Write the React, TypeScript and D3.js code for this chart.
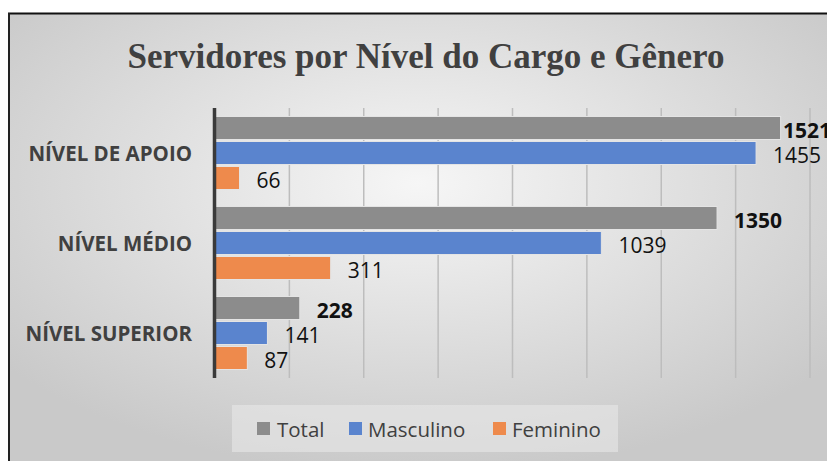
import React from "react";
import * as d3 from "d3";

const categories = ["NÍVEL DE APOIO", "NÍVEL MÉDIO", "NÍVEL SUPERIOR"];
const seriesNames = ["Total", "Masculino", "Feminino"];
const totalValues = [1521, 1350, 228];
const masculinoValues = [1455, 1039, 141];
const femininoValues = [66, 311, 87];
const xTicks = [0, 200, 400, 600, 800, 1000, 1200, 1400, 1600];

const colors: Record<string, string> = {
  Total: "#8c8c8c",
  Masculino: "#5a84ce",
  Feminino: "#ee8a4c",
};

export default function App() {
  const W = 827;
  const H = 461;
  const left = 215;
  const right = 810;
  const top = 108;
  const bottom = 378;

  const x = d3.scaleLinear().domain([0, 1600]).range([left, right]);
  const y0 = d3.scaleBand<string>().domain(categories).range([top, bottom]).padding(0);
  const y1 = d3
    .scaleBand<string>()
    .domain(seriesNames)
    .range([0, y0.bandwidth()])
    .paddingInner(0.08)
    .paddingOuter(0.34);

  const valuesBySeries: Record<string, number[]> = {
    Total: totalValues,
    Masculino: masculinoValues,
    Feminino: femininoValues,
  };

  const font = "'Open Sans', 'Noto Sans', sans-serif";

  const legendItems = [
    { name: "Total", sx: 257, tx: 277 },
    { name: "Masculino", sx: 349, tx: 368 },
    { name: "Feminino", sx: 493, tx: 512 },
  ];

  return (
    <svg
      width={W}
      height={H}
      style={{ position: "absolute", left: 0, top: 0, display: "block" }}
    >
      <defs>
        <radialGradient id="bg" cx="50%" cy="38%" r="65%">
          <stop offset="0%" stopColor="#f6f6f6" />
          <stop offset="100%" stopColor="#c9c9c9" />
        </radialGradient>
      </defs>
      <rect x={0} y={0} width={W} height={H} fill="#ffffff" />
      <rect x={9} y={13} width={W - 9} height={H - 13} fill="url(#bg)" />
      <line x1={8} x2={W} y1={13.5} y2={13.5} stroke="#111" strokeWidth={2} />
      <line x1={9} x2={9} y1={13} y2={H} stroke="#222" strokeWidth={2} />

      <text
        x={426}
        y={68}
        textAnchor="middle"
        fontFamily="'Liberation Serif', 'Times New Roman', serif"
        fontWeight="bold"
        fontSize={35}
        fill="#404040"
      >
        Servidores por Nível do Cargo e Gênero
      </text>

      {xTicks.slice(1).map((t) => (
        <line
          key={t}
          x1={x(t)}
          x2={x(t)}
          y1={top}
          y2={bottom}
          stroke="#bdbdbd"
          strokeWidth={1.5}
        />
      ))}

      {categories.map((c, i) => (
        <g key={c} transform={`translate(0,${y0(c)})`}>
          {seriesNames.map((s) => {
            const v = valuesBySeries[s][i];
            const yy = y1(s)!;
            const bh = y1.bandwidth();
            const end = x(v);
            const lx = Math.min(end + 17, right - 27);
            return (
              <g key={s}>
                <rect
                  x={x(0)}
                  y={yy}
                  width={end - x(0)}
                  height={bh}
                  fill={colors[s]}
                  stroke="#e4e4e4"
                  strokeWidth={1}
                />
                <text
                  x={lx}
                  y={yy + bh / 2 + 1.5}
                  dominantBaseline="central"
                  fontFamily={font}
                  fontSize={21}
                  fontWeight={s === "Total" ? "bold" : "normal"}
                  fill="#111"
                >
                  {v}
                </text>
              </g>
            );
          })}
          <text
            x={192}
            y={y0.bandwidth() / 2}
            textAnchor="end"
            dominantBaseline="central"
            fontFamily={font}
            fontWeight="bold"
            fontSize={20.5}
            fill="#404040"
          >
            {c}
          </text>
        </g>
      ))}

      <line x1={x(0) - 0.5} x2={x(0) - 0.5} y1={top} y2={bottom} stroke="#3a3a3a" strokeWidth={3.5} />

      <rect x={232} y={405} width={386} height={47} fill="#e8e8e8" opacity={0.6} />
      {legendItems.map((it) => (
        <g key={it.name}>
          <rect x={it.sx} y={422} width={13} height={13} fill={colors[it.name]} />
          <text
            x={it.tx}
            y={429}
            dominantBaseline="central"
            fontFamily={font}
            fontSize={20.5}
            fill="#404040"
          >
            {it.name}
          </text>
        </g>
      ))}
    </svg>
  );
}
